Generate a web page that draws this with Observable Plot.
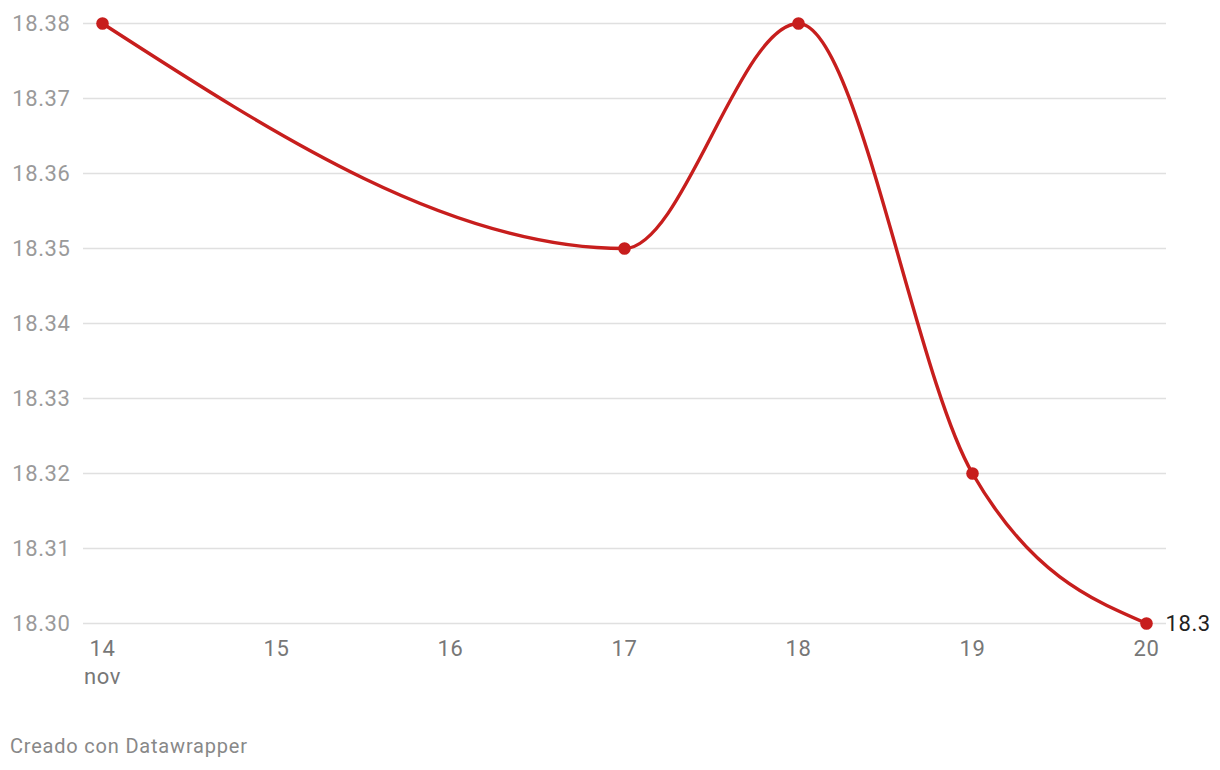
<!DOCTYPE html>
<html>
<head>
<meta charset="utf-8">
<script src="https://cdn.jsdelivr.net/npm/d3@7"></script>
<script src="https://cdn.jsdelivr.net/npm/@observablehq/plot@0.6"></script>
<style>
  html, body { margin: 0; padding: 0; background: #fff; }
  body { width: 1220px; height: 770px; font-family: Roboto, sans-serif; position: relative; }
  #footer { position: absolute; left: 10px; top: 735px; font-size: 20px; letter-spacing: 0.8px; color: #888; font-family: Roboto, sans-serif; line-height: 1.15; }
</style>
</head>
<body>
<div id="chart"></div>
<div id="footer">Creado con Datawrapper</div>
<script>
const days = [14, 17, 18, 19, 20];
const values = [18.38, 18.35, 18.38, 18.32, 18.30];
const xTicks = [14, 15, 16, 17, 18, 19, 20];
const yTicks = [18.30, 18.31, 18.32, 18.33, 18.34, 18.35, 18.36, 18.37, 18.38];
const monthLabel = "nov";
const lastLabel = "18.3";

const data = days.map((d, i) => ({day: d, value: values[i]}));
const last = data[data.length - 1];

const chart = Plot.plot({
  width: 1220,
  height: 700,
  marginLeft: 102,
  marginRight: 74,
  marginTop: 23,
  marginBottom: 77,
  style: {fontFamily: "Roboto, sans-serif", fontSize: "22px", letterSpacing: "0.6px", background: "#fff"},
  x: {domain: [14, 20]},
  y: {domain: [18.30, 18.38]},
  marks: [
    Plot.ruleY(yTicks, {stroke: "#e0e0e0", strokeWidth: 1.3, insetLeft: -19, insetRight: -20}),
    Plot.axisY(yTicks, {tickSize: 0, tickPadding: 32, tickFormat: d => d.toFixed(2), fill: "#9a9a9a", fontSize: 22, label: null}),
    Plot.axisX(xTicks, {tickSize: 0, tickPadding: 17, tickFormat: d => String(d), fill: "#777", fontSize: 22, label: null}),
    Plot.text([xTicks[0]], {x: d => d, frameAnchor: "bottom", dy: 60, text: () => monthLabel, fill: "#777", fontSize: 22}),
    Plot.line(data, {x: "day", y: "value", curve: "monotone-x", stroke: "#c71e1d", strokeWidth: 3.4}),
    Plot.dot(data, {x: "day", y: "value", r: 6.3, fill: "#c71e1d", stroke: "none"}),
    Plot.text([last], {x: "day", y: "value", text: () => lastLabel, textAnchor: "start", dx: 19, fill: "#222", fontSize: 22})
  ]
});
document.getElementById("chart").appendChild(chart);
</script>
</body>
</html>
